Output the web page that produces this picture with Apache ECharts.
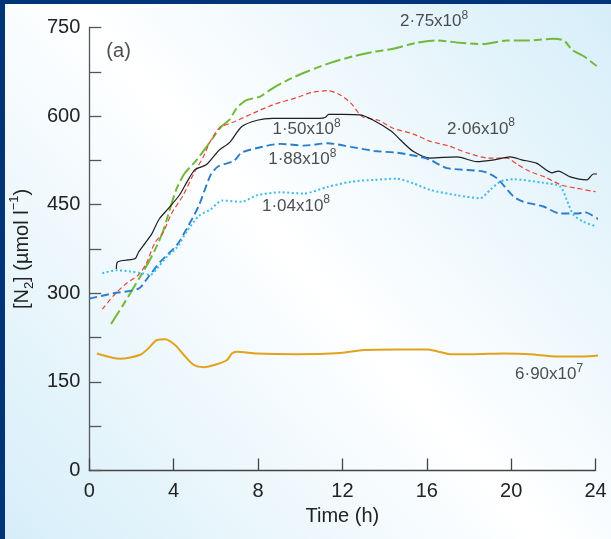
<!DOCTYPE html>
<html>
<head>
<meta charset="utf-8">
<script src="https://cdn.jsdelivr.net/npm/echarts@6/dist/echarts.min.js"></script>
<style>
html,body{margin:0;padding:0;background:#003478;}
#c{width:611px;height:539px;}
</style>
</head>
<body>
<div id="c"></div>
<script>
// ---- data (time in h, [N2] in umol/l) ----
const s275 = [[1.03,248],[1.6,280],[2.14,312],[2.5,333],[2.85,355],[3.2,380],[3.5,405],[3.8,440],[4.15,478],[4.5,502],[5.0,522],[5.5,545],[5.9,565],[6.25,582],[6.65,594],[7.0,614],[7.45,627],[8.1,633],[8.6,645],[9.4,661],[10.3,675],[11.5,691],[12.6,702],[13.5,709],[14.4,714],[15.5,724],[16.5,728],[17.6,724],[18.7,722],[19.8,728],[20.9,728],[22.0,731],[22.5,728],[22.9,712],[23.5,700],[24.25,679]];
const s206 = [[0.62,273],[1.2,298],[1.8,318],[2.3,330],[2.7,350],[3.1,385],[3.5,403],[3.9,435],[4.45,466],[5.0,506],[5.38,529],[5.75,558],[6.2,581],[6.85,590],[7.78,605],[8.7,619],[9.8,631],[10.55,640],[11.3,643],[11.84,637],[12.4,622],[12.95,599],[13.7,593],[14.43,579],[15.35,570],[16.1,558],[17.0,550],[17.9,538],[18.9,529],[19.8,529],[20.3,518],[20.9,506],[21.6,497],[22.4,483],[23.1,478],[24.0,472]];
const s150 = [[1.28,341],[1.34,353],[1.7,356],[2.18,359],[2.34,370],[2.65,385],[2.97,401],[3.3,425],[3.71,442],[4.27,466],[4.64,489],[5.0,509],[5.56,518],[6.12,541],[6.67,556],[7.22,582],[7.96,593],[8.7,596],[9.8,596],[10.92,596],[11.2,598],[11.35,603],[12.03,603],[12.84,602],[13.47,593],[14.34,574],[14.74,560],[15.37,540],[16.16,529],[17.43,531],[18.37,523],[19.2,526],[19.95,531],[20.5,526],[21.22,520],[21.93,504],[22.24,507],[22.8,497],[23.59,492],[23.9,502],[24.25,502]];
const s188 = [[0,291],[1.15,300],[2.34,308],[2.81,328],[3.36,353],[4.16,382],[4.63,410],[5.19,448],[5.75,500],[6.12,515],[6.85,524],[7.22,538],[7.96,546],[9.07,553],[10.18,550],[11.29,554],[12.4,548],[13.5,541],[14.6,538],[15.7,531],[16.16,526],[16.95,512],[18.69,506],[19.32,495],[20.11,464],[20.58,455],[21.53,447],[22.32,435],[23.1,435],[23.5,437],[24.2,424]];
const s104 = [[0.62,334],[1.31,339],[1.94,337],[2.5,334],[2.89,331],[3.21,342],[3.68,362],[4.16,378],[4.63,405],[5.19,431],[5.75,442],[6.3,457],[7.22,455],[7.96,466],[9.07,471],[10.18,469],[11.29,480],[12.4,489],[13.5,492],[14.58,494],[15.37,486],[16.16,475],[17.43,466],[18.53,461],[19.0,475],[19.48,489],[20.1,493],[21.53,487],[22.32,481],[22.64,458],[22.95,433],[23.43,421],[24.06,413]];
const s069 = [[0.36,198],[1.47,189],[2.42,196],[2.81,207],[3.21,221],[3.6,222],[4.08,212],[4.47,196],[4.94,179],[5.42,175],[6.05,180],[6.53,187],[6.76,198],[7.0,201],[7.95,198],[9.84,197],[11.9,199],[13.0,204],[14.58,205],[16.0,205],[16.48,202],[17.1,197],[18.2,197],[19.64,198],[20.9,197],[22.17,193],[23.43,193],[24.2,195]];

const xTicks = [0, 4, 8, 12, 16, 20, 24];
const yTicks = [0, 150, 300, 450, 600, 750];

// curve annotations: mantissa, exponent, anchor (h, umol/l)
const labelText = ['2·75x10', '2·06x10', '1·50x10', '1·88x10', '1·04x10', '6·90x10'];
const labelExp  = ['8', '8', '8', '8', '8', '7'];
const labelX    = [16.35, 18.57, 10.3, 10.1, 9.8, 21.8];
const labelY    = [760, 578, 577, 527, 448, 163];
const panelText = '(a)';
const panelPos  = [1.39, 709];

const FONT = '"Liberation Sans", Arial, Helvetica, sans-serif';
const chart = echarts.init(document.getElementById('c'), null, {renderer: 'canvas'});

function lineSeries(name, data, color, width, dash) {
  return {
    name, type: 'line', data, showSymbol: false, symbol: 'none',
    smooth: 0.25, clip: false, silent: true,
    lineStyle: {color, width, type: dash, cap: 'butt'},
    z: 3
  };
}

const labelData = labelText.map((t, i) => ({
  value: [labelX[i], labelY[i]],
  label: {formatter: '{m|' + t + '}{s|' + labelExp[i] + '}'}
}));
labelData.push({value: panelPos, label: {formatter: '{p|' + panelText + '}'}});

chart.setOption({
  backgroundColor: '#003478',
  animation: false,
  graphic: [{
    type: 'rect', z: -100, silent: true,
    shape: {x: 5, y: 4, width: 606, height: 535},
    style: {fill: {type: 'linear', x: 1, y: 0, x2: 0, y2: 1, colorStops: [
      {offset: 0, color: '#d6eef9'}, {offset: 0.5, color: '#ffffff'}, {offset: 1, color: '#d6eef9'}]}}
  }],
  grid: {left: 89, right: 15.5, top: 27.5, bottom: 68.5, containLabel: false},
  xAxis: {
    type: 'value', min: xTicks[0], max: xTicks[xTicks.length - 1], interval: 4,
    name: 'Time (h)', nameLocation: 'middle', nameGap: 35,
    nameTextStyle: {fontFamily: FONT, fontSize: 20, color: '#222'},
    axisLine: {show: true, lineStyle: {color: '#444', width: 1.3}},
    axisTick: {show: true, inside: true, length: 12, lineStyle: {color: '#444', width: 1.3}},
    axisLabel: {fontFamily: FONT, fontSize: 20, color: '#222', margin: 11},
    splitLine: {show: false}
  },
  yAxis: {
    type: 'value', min: yTicks[0], max: yTicks[yTicks.length - 1], interval: 75,
    name: '{n|[N}{sub|2}{n|] (µmol l}{sup|−1}{n|)}', nameLocation: 'middle', nameGap: 46, nameRotate: 90,
    nameTextStyle: {fontFamily: FONT, fontSize: 20, color: '#222',
      rich: {
        n: {fontFamily: FONT, fontSize: 20, color: '#222', lineHeight: 28},
        sub: {fontFamily: FONT, fontSize: 13, color: '#222', verticalAlign: 'bottom', lineHeight: 16},
        sup: {fontFamily: FONT, fontSize: 13, color: '#222', verticalAlign: 'top', lineHeight: 14}
      }},
    axisLine: {show: true, lineStyle: {color: '#555', width: 1.3}},
    axisTick: {show: true, inside: true, length: 12, lineStyle: {color: '#555', width: 1.3}},
    axisLabel: {fontFamily: FONT, fontSize: 20, color: '#222', margin: 9,
      formatter: v => (yTicks.indexOf(v) >= 0 ? String(v) : '')},
    splitLine: {show: false}
  },
  series: [
    lineSeries('2.75e8', s275, '#72b83a', 2, [16, 4, 8, 4]),
    lineSeries('2.06e8', s206, '#e8473c', 1.2, [5, 3]),
    lineSeries('1.50e8', s150, '#1e1e1e', 1.2, 'solid'),
    lineSeries('1.88e8', s188, '#2a7ccc', 1.9, [8, 4]),
    lineSeries('1.04e8', s104, '#3dbde9', 2, [2, 2.5]),
    lineSeries('6.90e7', s069, '#e2a21d', 2, 'solid'),
    {
      type: 'scatter', data: labelData, symbolSize: 1, clip: false, silent: true,
      itemStyle: {color: 'rgba(0,0,0,0)'}, z: 5,
      label: {show: true, position: 'inside', color: '#222',
        rich: {
          m: {fontFamily: FONT, fontSize: 17, color: '#222', lineHeight: 24},
          s: {fontFamily: FONT, fontSize: 12, color: '#222', verticalAlign: 'top', lineHeight: 12},
          p: {fontFamily: FONT, fontSize: 20, color: '#222'}
        }}
    }
  ]
});
</script>
</body>
</html>
